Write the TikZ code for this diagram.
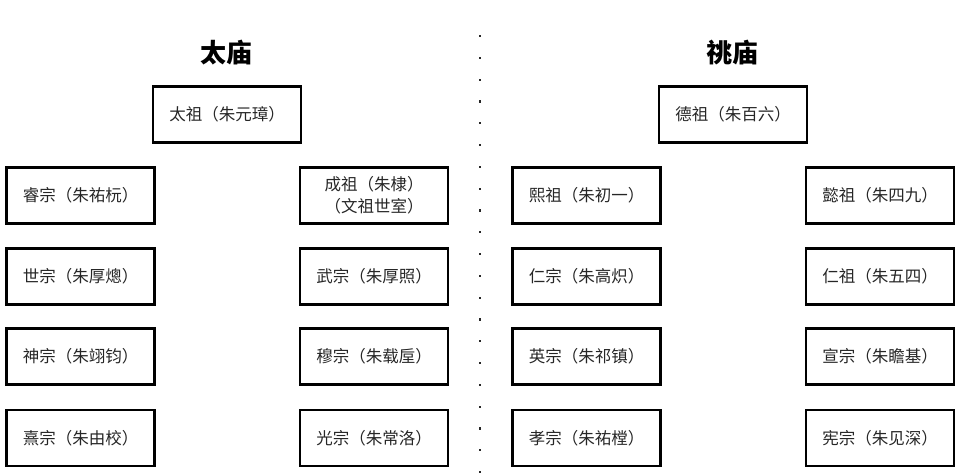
\documentclass[tikz,border=0pt]{standalone}
\usepackage{fontspec}
\newfontfamily\cjk{Noto Sans CJK SC}
\begin{document}
\begin{tikzpicture}[x=1pt,y=-1pt,
  tbox/.style={draw=black,line width=2.3pt,minimum width=148pt,minimum height=56pt,
    inner sep=0pt,font=\cjk\fontsize{16.5}{22}\selectfont,align=center,text=black!85},
  ttl/.style={font=\cjk\bfseries\fontsize{26}{28}\selectfont}]
\useasboundingbox (0,0) rectangle (960,475);
% titles
\node[ttl] (t1) at (226,53) {太庙};
\node[ttl] (t2) at (732,53) {祧庙};
% top boxes
\node[tbox] (a0) at (227,114.5) {太祖（朱元璋）};
\node[tbox] (b0) at (733,114.5) {德祖（朱百六）};
% left half
\node[tbox] (a1) at (80.5,195.5) {睿宗（朱祐杬）};
\node[tbox] (a2) at (374,195.5) {成祖（朱棣）\\（文祖世室）};
\node[tbox] (a3) at (80.5,276.5) {世宗（朱厚熜）};
\node[tbox] (a4) at (374,276.5) {武宗（朱厚照）};
\node[tbox] (a5) at (80.5,356.5) {神宗（朱翊钧）};
\node[tbox] (a6) at (374,356.5) {穆宗（朱载垕）};
\node[tbox] (a7) at (80.5,438) {熹宗（朱由校）};
\node[tbox] (a8) at (374,438) {光宗（朱常洛）};
% right half
\node[tbox] (b1) at (586.5,195.5) {熙祖（朱初一）};
\node[tbox] (b2) at (880,195.5) {懿祖（朱四九）};
\node[tbox] (b3) at (586.5,276.5) {仁宗（朱高炽）};
\node[tbox] (b4) at (880,276.5) {仁祖（朱五四）};
\node[tbox] (b5) at (586.5,356.5) {英宗（朱祁镇）};
\node[tbox] (b6) at (880,356.5) {宣宗（朱瞻基）};
\node[tbox] (b7) at (586.5,438) {孝宗（朱祐樘）};
\node[tbox] (b8) at (880,438) {宪宗（朱见深）};
% dotted divider
\foreach \i in {0,...,20}{
  \fill[black!85] ({480-1.1},{36+21.8*\i-1.1}) rectangle ++(2.2,2.2);
}
\end{tikzpicture}
\end{document}
